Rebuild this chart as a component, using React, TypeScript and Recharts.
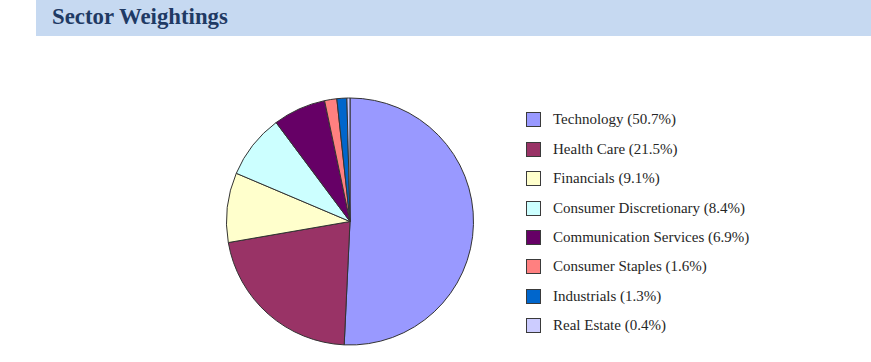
import React from "react";
import { PieChart, Pie, Cell, Legend } from "recharts";

const sectors = [
  "Technology",
  "Health Care",
  "Financials",
  "Consumer Discretionary",
  "Communication Services",
  "Consumer Staples",
  "Industrials",
  "Real Estate",
];
const weights = [50.7, 21.5, 9.1, 8.4, 6.9, 1.6, 1.3, 0.4];
const colors = ["#9999ff", "#993366", "#ffffcc", "#ccffff", "#660066", "#ff8080", "#0066cc", "#ccccff"];
const title = "Sector Weightings";

const data = sectors.map((name, i) => ({ name, value: weights[i] }));

const FONT = "'Liberation Serif', 'DejaVu Serif', serif";

const renderLegend = () => (
  <div style={{ fontFamily: FONT }}>
    {data.map((d, i) => (
      <div key={d.name} style={{ display: "flex", alignItems: "center", height: 29.45 }}>
        <div
          style={{
            width: 15,
            height: 15,
            background: colors[i],
            border: "1.5px solid #3a3a3a",
            marginRight: 12,
            boxSizing: "border-box",
          }}
        />
        <span style={{ fontSize: 15, color: "#262626", whiteSpace: "nowrap" }}>
          {d.name} ({d.value.toFixed(1)}%)
        </span>
      </div>
    ))}
  </div>
);

export default function App() {
  return (
    <div style={{ position: "absolute", left: 0, top: 0, width: 871, height: 362, background: "#fff" }}>
      <div
        style={{
          position: "absolute",
          left: 36,
          top: 0,
          width: 835,
          height: 36,
          background: "#c6d9f1",
        }}
      >
        <span
          style={{
            position: "absolute",
            left: 16,
            top: 4,
            fontFamily: FONT,
            fontWeight: "bold",
            fontSize: 22.8,
            color: "#1f3a64",
            whiteSpace: "nowrap",
          }}
        >
          {title}
        </span>
      </div>
      <div style={{ position: "absolute", left: 0, top: 0 }}>
        <PieChart width={871} height={362} margin={{ top: 0, right: 0, bottom: 0, left: 0 }}>
          <Pie
            data={data}
            dataKey="value"
            nameKey="name"
            cx={350}
            cy={221.5}
            outerRadius={123.5}
            startAngle={90}
            endAngle={-270}
            stroke="#333333"
            strokeWidth={1}
            isAnimationActive={false}
          >
            {data.map((d, i) => (
              <Cell key={d.name} fill={colors[i]} />
            ))}
          </Pie>
          <Legend
            content={renderLegend}
            layout="vertical"
            wrapperStyle={{ position: "absolute", left: 526, top: 105, width: 300 }}
          />
        </PieChart>
      </div>
    </div>
  );
}
